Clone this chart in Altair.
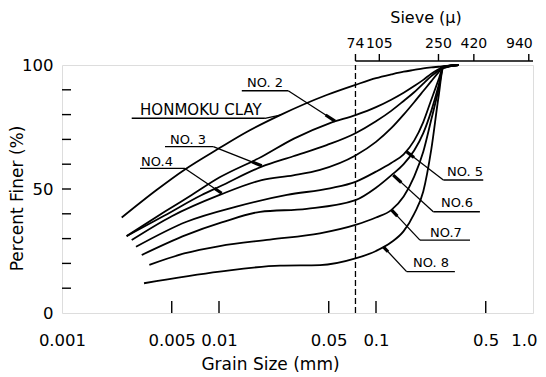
import math
import altair as alt
import pandas as pd

FONT = "DejaVu Sans"

# ---------------- curve data (grain size mm, percent finer) ----------------
honmoku_x = [0.0024, 0.004, 0.006, 0.01, 0.015, 0.0245, 0.0485, 0.074, 0.1, 0.125, 0.15, 0.175, 0.2, 0.225, 0.25, 0.268, 0.335]
honmoku_y = [38.5, 49.6, 57.7, 66.4, 73.0, 79.8, 87.9, 92.0, 94.7, 96.2, 97.3, 98.0, 98.6, 99.0, 99.3, 99.5, 100]

no2_x = [0.00258, 0.0045, 0.0067, 0.0101, 0.0187, 0.03, 0.0509, 0.074, 0.1, 0.125, 0.15, 0.175, 0.2, 0.225, 0.25, 0.268, 0.335]
no2_y = [31.0, 40.8, 47.6, 54.7, 63.0, 70.3, 76.6, 79.8, 83.0, 86.0, 88.8, 91.5, 94.0, 96.5, 98.3, 99.3, 100]

no3_x = [0.00258, 0.0045, 0.00776, 0.0101, 0.0187, 0.0297, 0.0485, 0.074, 0.1, 0.125, 0.15, 0.175, 0.2, 0.225, 0.25, 0.268, 0.335]
no3_y = [31.0, 39.3, 47.6, 51.0, 59.0, 63.2, 67.7, 72.5, 77.3, 81.5, 85.5, 89.0, 92.5, 95.5, 97.8, 99.2, 100]

no4_x = [0.00278, 0.005, 0.0101, 0.0187, 0.0297, 0.044, 0.074, 0.1, 0.125, 0.15, 0.175, 0.2, 0.225, 0.25, 0.268, 0.335]
no4_y = [29.4, 39.0, 47.6, 53.6, 55.5, 57.7, 63.5, 69.0, 74.5, 80.0, 85.0, 89.5, 93.5, 97.0, 99.2, 100]

no5_x = [0.00296, 0.00621, 0.0129, 0.0271, 0.0509, 0.074, 0.1, 0.125, 0.15, 0.175, 0.2, 0.225, 0.25, 0.268, 0.335]
no5_y = [26.7, 36.8, 42.9, 47.6, 50.3, 52.9, 57.0, 60.5, 64.0, 69.5, 77.0, 86.0, 94.0, 99.1, 100]

no6_x = [0.00322, 0.0062, 0.0104, 0.0183, 0.0362, 0.074, 0.1, 0.125, 0.15, 0.175, 0.2, 0.225, 0.25, 0.268, 0.335]
no6_y = [23.4, 31.5, 36.5, 40.8, 42.0, 45.5, 50.5, 55.5, 60.0, 65.5, 72.5, 81.5, 91.5, 99.0, 100]

no7_x = [0.0036, 0.006, 0.0101, 0.0211, 0.0439, 0.074, 0.1, 0.125, 0.15, 0.175, 0.2, 0.225, 0.25, 0.268, 0.335]
no7_y = [19.4, 24.0, 27.0, 29.6, 32.1, 35.5, 38.5, 41.5, 47.0, 55.0, 65.0, 78.0, 90.0, 98.8, 100]

no8_x = [0.00333, 0.0101, 0.0245, 0.044, 0.074, 0.1, 0.125, 0.15, 0.175, 0.2, 0.225, 0.25, 0.268, 0.335]
no8_y = [12.0, 16.7, 19.1, 19.3, 22.0, 25.0, 28.5, 33.0, 40.0, 49.0, 66.0, 87.0, 98.7, 100]

curves = {
    "HONMOKU CLAY": (honmoku_x, honmoku_y),
    "NO.2": (no2_x, no2_y),
    "NO.3": (no3_x, no3_y),
    "NO.4": (no4_x, no4_y),
    "NO.5": (no5_x, no5_y),
    "NO.6": (no6_x, no6_y),
    "NO.7": (no7_x, no7_y),
    "NO.8": (no8_x, no8_y),
}

# ---------------- axes ----------------
x_label_values = [0.001, 0.005, 0.01, 0.05, 0.1, 0.5, 1.0]
x_inner_ticks = [0.005, 0.01, 0.05, 0.1, 0.5]
y_label_values = [0, 50, 100]
y_inner_ticks = [10, 20, 30, 40, 50, 60, 70, 80, 90]
sieve_um = [74, 105, 250, 420, 940]
boundary_mm = 0.074

# ---------------- annotations (data coordinates) ----------------
label_text = ["NO. 2", "HONMOKU CLAY", "NO. 3", "NO.4", "NO. 5", "NO.6", "NO.7", "NO. 8"]
label_size = [13, 15, 13, 13, 13, 13, 13, 13]
label_x = [0.01963, 0.00767, 0.00635, 0.00403, 0.369, 0.328, 0.279, 0.224]
label_y = [92.7, 81.9, 69.8, 60.9, 56.9, 44.4, 32.3, 20.2]
under_x1 = [0.01397, 0.00278, 0.00453, 0.00314, 0.2685, 0.2317, 0.1905, 0.1567]
under_x2 = [0.0276, 0.0196, 0.0092, 0.00607, 0.482, 0.459, 0.397, 0.318]
under_y = [89.6, 78.5, 67.1, 58.3, 53.6, 40.8, 29.4, 16.7]
lead_x1 = [0.0276, 0.0196, 0.0092, 0.00607, 0.2685, 0.2317, 0.1905, 0.1567]
lead_x2 = [0.0548, 0.0245, 0.0187, 0.0104, 0.1567, 0.1288, 0.1259, 0.1114]
lead_y2 = [77.4, 79.8, 59.4, 48.3, 65.0, 55.6, 41.5, 26.7]
has_arrow = [True, False, True, True, True, True, True, True]

# ---------------- build tables ----------------
rows = []
for name, (xs, ys) in curves.items():
    for i, (xv, yv) in enumerate(zip(xs, ys)):
        rows.append({"name": name, "x": xv, "y": yv, "order": i})
curve_df = pd.DataFrame(rows)

ann_df = pd.DataFrame({
    "text": label_text, "size": label_size, "tx": label_x, "ty": label_y,
    "ux1": under_x1, "ux2": under_x2, "uy": under_y,
    "lx1": lead_x1, "ly1": under_y, "lx2": lead_x2, "ly2": lead_y2,
})
arrow_rows = []
for a, x1, y1, x2, y2 in zip(has_arrow, lead_x1, under_y, lead_x2, lead_y2):
    if a:
        t = 0.80
        ax = math.exp(math.log(x1) + (math.log(x2) - math.log(x1)) * t)
        ay = y1 + (y2 - y1) * t
        arrow_rows.append({"ax": ax, "ay": ay, "bx": x2, "by": y2})
arrow_df = pd.DataFrame(arrow_rows)

W, H = 471, 248
xscale = alt.Scale(type="log", domain=[0.001, 1.0], nice=False)
yscale = alt.Scale(domain=[0, 100], nice=False, zero=False)

x_axis = alt.Axis(
    values=x_label_values,
    labelExpr="datum.value >= 1 ? '1.0' : format(datum.value, '~g')",
    labelAlign={"condition": {"test": "datum.value >= 1", "value": "right"}, "value": "center"},
    labelOffset={"condition": {"test": "datum.value >= 1", "value": 4}, "value": 0},
    ticks=False, tickSize=0, domain=False, grid=False,
    labelFlush=False, labelOverlap=False, labelPadding=19,
    labelFont=FONT, labelFontSize=16.5, labelColor="black",
    title="Grain Size (mm)", titleFont=FONT, titleFontSize=17,
    titleFontWeight="normal", titleColor="black",
    titleX=208, titleY=51, titleAlign="center", titleBaseline="middle",
)
y_axis = alt.Axis(
    values=y_label_values,
    ticks=False, tickSize=0, domain=False, grid=False,
    labelPadding=9, labelFont=FONT, labelFontSize=16.5, labelColor="black",
    title="Percent Finer (%)", titleFont=FONT, titleFontSize=17,
    titleFontWeight="normal", titleColor="black",
    titleX=-45, titleY=133, titleAlign="center", titleBaseline="middle",
)

base = alt.Chart(curve_df)

lines = base.mark_line(interpolate="monotone", color="black", strokeWidth=1.8).encode(
    x=alt.X("x:Q", scale=xscale, axis=x_axis),
    y=alt.Y("y:Q", scale=yscale, axis=y_axis),
    detail="name:N",
    order="order:Q",
)

dash = alt.Chart(pd.DataFrame({"x": [boundary_mm], "y": [0], "y2": [100]})).mark_rule(
    color="black", strokeWidth=1.3, strokeDash=[6, 3]
).encode(x=alt.X("x:Q", scale=xscale), y=alt.Y("y:Q", scale=yscale), y2="y2:Q")

yticks = alt.Chart(pd.DataFrame({"y": y_inner_ticks})).mark_rule(
    color="black", strokeWidth=1.4
).encode(y=alt.Y("y:Q", scale=yscale), x=alt.value(0), x2=alt.value(9))

xticks = alt.Chart(pd.DataFrame({"x": x_inner_ticks})).mark_rule(
    color="black", strokeWidth=1.4
).encode(x=alt.X("x:Q", scale=xscale), y=alt.value(H), y2=alt.value(H - 12))

sieve_df = pd.DataFrame({"x": [u / 1000 for u in sieve_um], "lab": [str(u) for u in sieve_um]})
sieve_inner = sieve_df[sieve_df["x"] < 0.5]
sieve_edge = sieve_df[sieve_df["x"] >= 0.5]
top_line = alt.Chart(pd.DataFrame({"x": [boundary_mm], "x2": [1.0]})).mark_rule(
    color="black", strokeWidth=1.4
).encode(x=alt.X("x:Q", scale=xscale), x2="x2:Q", y=alt.value(-4))
top_ticks = alt.Chart(sieve_df).mark_rule(color="black", strokeWidth=1.4).encode(
    x=alt.X("x:Q", scale=xscale), y=alt.value(-4), y2=alt.value(-11)
)
top_labels = alt.Chart(sieve_inner).mark_text(
    font=FONT, fontSize=14, color="black", baseline="middle", align="center"
).encode(x=alt.X("x:Q", scale=xscale), y=alt.value(-21), text="lab:N")
top_labels_edge = alt.Chart(sieve_edge).mark_text(
    font=FONT, fontSize=14, color="black", baseline="middle", align="right", dx=4
).encode(x=alt.X("x:Q", scale=xscale), y=alt.value(-21), text="lab:N")
top_title = alt.Chart(pd.DataFrame({"t": ["Sieve (μ)"]})).mark_text(
    font=FONT, fontSize=16, color="black", baseline="middle", align="center"
).encode(x=alt.value(364), y=alt.value(-47), text="t:N")

ann = alt.Chart(ann_df)
labels = ann.mark_text(font=FONT, color="black", baseline="middle", align="center").encode(
    x=alt.X("tx:Q", scale=xscale), y=alt.Y("ty:Q", scale=yscale), text="text:N",
    size=alt.Size("size:Q", scale=None, legend=None),
)
underlines = ann.mark_rule(color="black", strokeWidth=1.4).encode(
    x=alt.X("ux1:Q", scale=xscale), x2="ux2:Q", y=alt.Y("uy:Q", scale=yscale)
)
leaders = ann.mark_rule(color="black", strokeWidth=1.3).encode(
    x=alt.X("lx1:Q", scale=xscale), x2="lx2:Q",
    y=alt.Y("ly1:Q", scale=yscale), y2="ly2:Q",
)
arrows = alt.Chart(arrow_df).mark_rule(color="black", strokeWidth=3.2).encode(
    x=alt.X("ax:Q", scale=xscale), x2="bx:Q",
    y=alt.Y("ay:Q", scale=yscale), y2="by:Q",
)

chart = alt.layer(
    lines, dash, yticks, xticks, top_line, top_ticks, top_labels, top_labels_edge,
    top_title, underlines, leaders, arrows, labels,
).properties(
    width=W, height=H,
    autosize=alt.AutoSizeParams(type="none"),
    padding={"left": 54, "top": 57, "right": 5, "bottom": 63},
).configure_view(stroke="black", strokeWidth=1.6).configure(background="white")

chart.save("out.html", embed_options={"renderer": "svg", "actions": False})
